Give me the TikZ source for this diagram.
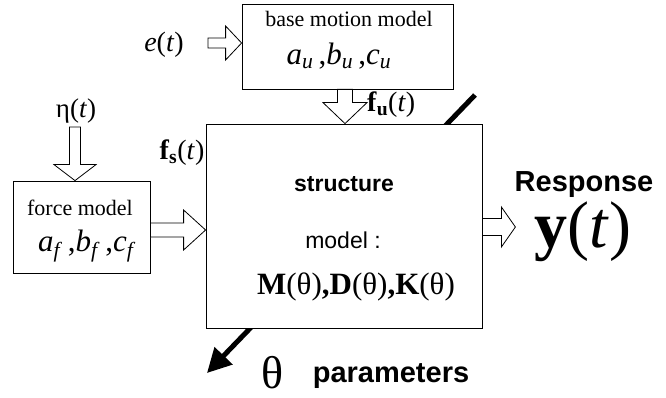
\documentclass[tikz,border=0pt]{standalone}
\usepackage{fontspec}
\setmainfont{Liberation Serif}
\setsansfont{Liberation Sans}
\usetikzlibrary{calc,arrows.meta}
\newcommand\hollowarrow[5]{%
  \coordinate (hh) at ($(#2)!#5!(#1)$);
  \draw[fatarrow] ($(#1)!#3!90:(#2)$) -- ($(hh)!#3!90:(#2)$) -- ($(hh)!#4!90:(#2)$) -- (#2)
    -- ($(hh)!#4!-90:(#2)$) -- ($(hh)!#3!-90:(#2)$) -- ($(#1)!#3!-90:(#2)$) -- cycle;}
\newcommand\fsz[1]{\fontsize{#1}{#1}\selectfont}
\begin{document}
\begin{tikzpicture}[x=1pt,y=-1pt,
  box/.style={draw,line width=0.8pt,fill=white,inner sep=0pt},
  fatarrow/.style={draw,line width=0.8pt,fill=white,line join=miter},
  lbl/.style={inner sep=0pt,anchor=base},
  thick arrow/.style={line width=5pt,-{Triangle[length=24pt,width=24pt]}}]
\useasboundingbox (0,0) rectangle (666,398);

% parameter arrow (behind the structure box)
\coordinate (thS) at (475,95);
\coordinate (thE) at (207,373);
\draw[thick arrow] (thS) -- (thE);

% boxes
\node[box,minimum width=211pt,minimum height=85pt] (base) at (347.5,46.5) {};
\node[box,minimum width=137pt,minimum height=92pt] (force) at (81.5,227) {};
\node[box,minimum width=276pt,minimum height=204pt] (struct) at (344,226) {};

% texts in boxes
\node[lbl] (basetxt) at (349,27) {\fsz{22}base motion model};
\node[lbl] (baseprm) at (339,65) {\fsz{31}\textit{a}\textsubscript{\textit{u}}\,,\textit{b}\textsubscript{\textit{u}}\,,\textit{c}\textsubscript{\textit{u}}};
\node[lbl] (forcetxt) at (80,215) {\fsz{22}force model};
\node[lbl] (forceprm) at (87,251) {\fsz{31}\textit{a}\textsubscript{\textit{f}}\,,\textit{b}\textsubscript{\textit{f}}\,,\textit{c}\textsubscript{\textit{f}}};
\node[lbl] (structtxt) at (344,191) {\fsz{23}\sffamily\bfseries structure};
\node[lbl] (modeltxt) at (343,248) {\fsz{23}\sffamily model :};
\node[lbl] (mdk) at (356,294) {\fsz{31}\textbf{M}(θ)\textbf{,}\textbf{D}(θ)\textbf{,}\textbf{K}(θ)};

% outside labels
\node[lbl] (etxt) at (164,52) {\fsz{28}\textit{e}(\textit{t})};
\node[lbl] (etatxt) at (76,118) {\fsz{27}η(\textit{t})};
\node[lbl] (fstxt) at (182,160) {\fsz{28}\textbf{f}\textsubscript{\textbf{s}}(\textit{t})};
\node[lbl,anchor=base west] (futxt) at (367,112) {\fsz{28}\textbf{f}\textsubscript{\textbf{u}}(\textit{t})};
\node[lbl,text depth=0pt] (resptxt) at (584,192) {\fsz{29}\sffamily\bfseries Response};
\node[lbl,text height=42pt] (ytxt) at (583,247) {\fsz{66}\textbf{y}(\textit{t})};
\node[lbl,text depth=0pt] (thtxt) at (273,388) {\fsz{46}θ};
\node[lbl] (partxt) at (391,382) {\fsz{29}\sffamily\bfseries parameters};

% hollow arrows
\coordinate (eS) at (208,43);
\coordinate (eE) at (base.west |- eS);
\hollowarrow{eS}{eE}{5pt}{17pt}{16pt}

\coordinate (etaS) at (75,127);
\coordinate (etaE) at (etaS |- force.north);
\hollowarrow{etaS}{etaE}{5.5pt}{21pt}{16pt}

\coordinate (fuX) at (345,0);
\coordinate (fuS) at (fuX |- base.south);
\coordinate (fuE) at (fuX |- struct.north);
\hollowarrow{fuS}{fuE}{7.5pt}{22pt}{21pt}

\coordinate (fsY) at (0,230);
\coordinate (fsS) at (force.east |- fsY);
\coordinate (fsE) at (struct.west |- fsY);
\hollowarrow{fsS}{fsE}{7pt}{20pt}{22pt}

\coordinate (rY) at (0,227);
\coordinate (rS) at (struct.east |- rY);
\coordinate (rE) at ($(rS)+(33,0)$);
\hollowarrow{rS}{rE}{8.5pt}{20pt}{14pt}
\end{tikzpicture}
\end{document}
